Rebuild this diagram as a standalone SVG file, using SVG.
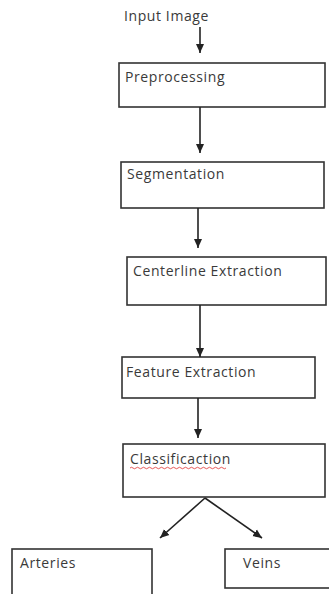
<svg xmlns="http://www.w3.org/2000/svg" width="329" height="594" viewBox="0 0 329 594">
<defs>
<marker id="ah" markerWidth="10" markerHeight="10" refX="9" refY="5" orient="auto" markerUnits="userSpaceOnUse">
<path d="M0,1 L9,5 L0,9 Z" fill="#222"/>
</marker>
</defs>
<style>
.box{fill:#fff;stroke:#333;stroke-width:1.6}
.t{font-family:"Open Sans","Liberation Sans",sans-serif;font-size:14px;letter-spacing:0.6px;fill:#3a3a3a}
.c{stroke:#222;stroke-width:1.6;fill:none;marker-end:url(#ah)}
</style>
<rect width="329" height="594" fill="#fff"/>
<g id="input"><text class="t" x="124" y="21">Input Image</text></g>
<g id="preprocessing"><rect class="box" x="119" y="63" width="206" height="44"/><text class="t" x="125" y="82">Preprocessing</text></g>
<g id="segmentation"><rect class="box" x="121" y="162" width="203" height="46"/><text class="t" x="127" y="179">Segmentation</text></g>
<g id="centerline"><rect class="box" x="127" y="257" width="199" height="48"/><text class="t" x="133" y="276">Centerline Extraction</text></g>
<g id="feature"><rect class="box" x="122" y="357" width="193" height="41"/><text class="t" x="126" y="377">Feature Extraction</text></g>
<g id="classification"><rect class="box" x="123" y="444" width="202" height="53"/><text class="t" x="130" y="464">Classificaction</text>
<path d="M130,468 q1.5,-1.5 3,0 t3,0 t3,0 t3,0 t3,0 t3,0 t3,0 t3,0 t3,0 t3,0 t3,0 t3,0 t3,0 t3,0 t3,0 t3,0 t3,0 t3,0 t3,0 t3,0 t3,0 t3,0 t3,0 t3,0 t3,0 t3,0 t3,0 t3,0 t3,0 t3,0 t3,0 t3,0" fill="none" stroke="#e03030" stroke-width="0.8"/></g>
<g id="arteries"><rect class="box" x="12" y="549" width="140" height="50"/><text class="t" x="20" y="568">Arteries</text></g>
<g id="veins"><rect class="box" x="225" y="549" width="110" height="39"/><text class="t" x="243" y="568">Veins</text></g>
<g id="connectors">
<line class="c" x1="200" y1="27" x2="200" y2="53"/>
<line class="c" x1="200" y1="107" x2="200" y2="153"/>
<line class="c" x1="198" y1="208" x2="198" y2="248"/>
<line class="c" x1="200" y1="305" x2="200" y2="357"/>
<line class="c" x1="198" y1="398" x2="198" y2="438"/>
<line class="c" x1="205" y1="498" x2="160" y2="538"/>
<line class="c" x1="205" y1="498" x2="262" y2="538"/>
</g>
</svg>
